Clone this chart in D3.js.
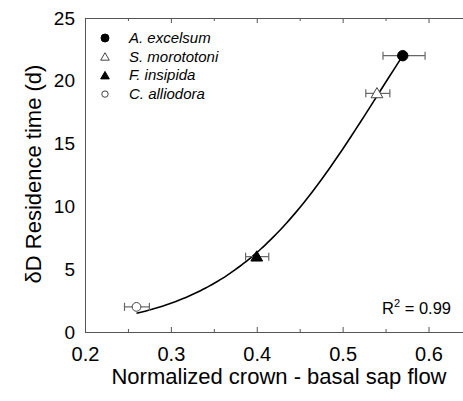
<!DOCTYPE html>
<html>
<head>
<meta charset="utf-8">
<script src="https://cdn.jsdelivr.net/npm/d3@7"></script>
<style>
  body { margin: 0; background: #fff; }
  svg { display: block; font-family: "Liberation Sans", Arial, sans-serif; }
</style>
</head>
<body>
<svg id="chart" width="463" height="401"></svg>
<script>
'use strict';

// data
const species = ['A. excelsum', 'S. morototoni', 'F. insipida', 'C. alliodora'];
const symbols = ['circleFilled', 'triangleOpen', 'triangleFilled', 'circleOpen'];
const flowValues = [0.57, 0.54, 0.40, 0.26];
const flowErrLow = [0.547, 0.527, 0.387, 0.246];
const flowErrHigh = [0.596, 0.555, 0.414, 0.275];
const residenceValues = [22, 19, 6, 2];
const xTicks = [0.2, 0.3, 0.4, 0.5, 0.6];
const xMinorTicks = [0.25, 0.35, 0.45, 0.55];
const yTicks = [0, 5, 10, 15, 20, 25];
// sigmoid regression curve, parameters estimated from the drawn line
const fitTop = 38, fitRate = 11.35, fitMid = 0.542;
const fitRange = [0.26, 0.57];

const svg = d3.select('#chart');
const plotLeft = 85, plotRight = 463, plotTop = 18, plotBottom = 332;

const x = d3.scaleLinear().domain([0.2, 0.6]).range([plotLeft, 428.5]);
const y = d3.scaleLinear().domain([0, 25]).range([plotBottom, plotTop]);

const fit = v => fitTop / (1 + Math.exp(-fitRate * (v - fitMid)));

// axes
const axisColor = '#555';
const bottomAxis = d3.axisBottom(x).tickValues(xTicks).tickSize(-5).tickFormat(d3.format('.1f')).tickPadding(15);
const gx = svg.append('g').attr('transform', `translate(0,${plotBottom})`).call(bottomAxis);
gx.select('.domain').remove();
gx.selectAll('.tick line').attr('stroke', axisColor);
gx.selectAll('.tick text').attr('font-size', 20).attr('fill', '#000');
svg.append('g').attr('transform', `translate(0,${plotBottom})`)
    .call(d3.axisBottom(x).tickValues(xMinorTicks).tickSize(-3).tickFormat(''))
    .call(g => g.select('.domain').remove())
    .selectAll('.tick line').attr('stroke', axisColor);

const topAxis = svg.append('g').attr('transform', `translate(0,${plotTop})`);
topAxis.call(d3.axisTop(x).tickValues(xTicks).tickSize(-5).tickFormat(''));
topAxis.select('.domain').remove();
topAxis.selectAll('.tick line').attr('stroke', axisColor);
svg.append('g').attr('transform', `translate(0,${plotTop})`)
    .call(d3.axisTop(x).tickValues(xMinorTicks).tickSize(-3).tickFormat(''))
    .call(g => g.select('.domain').remove())
    .selectAll('.tick line').attr('stroke', axisColor);

const gy = svg.append('g').attr('transform', `translate(${plotLeft},0)`)
    .call(d3.axisLeft(y).tickValues(yTicks).tickSize(0).tickPadding(10));
gy.select('.domain').remove();
gy.selectAll('.tick text').attr('font-size', 19).attr('fill', '#000');

svg.append('line').attr('x1', plotLeft).attr('x2', plotRight).attr('y1', plotTop + 0.5).attr('y2', plotTop + 0.5).attr('stroke', axisColor);
svg.append('line').attr('x1', plotLeft).attr('x2', plotRight).attr('y1', plotBottom + 0.5).attr('y2', plotBottom + 0.5).attr('stroke', axisColor);
svg.append('line').attr('x1', plotLeft + 0.5).attr('x2', plotLeft + 0.5).attr('y1', plotTop).attr('y2', plotBottom).attr('stroke', axisColor);

// axis titles
svg.append('text').attr('x', 279).attr('y', 384).attr('text-anchor', 'middle')
    .attr('font-size', 22).text('Normalized crown - basal sap flow');
svg.append('text').attr('transform', 'translate(41,174) rotate(-90)').attr('text-anchor', 'middle')
    .attr('font-size', 22).text('δD Residence time (d)');

// fitted curve
const curvePts = d3.range(fitRange[0], fitRange[1] + 0.0001, 0.005).map(v => [v, fit(v)]);
svg.append('path').datum(curvePts)
    .attr('d', d3.line().x(d => x(d[0])).y(d => y(d[1])).curve(d3.curveMonotoneX))
    .attr('fill', 'none').attr('stroke', '#000').attr('stroke-width', 1.6);

// error bars
const errs = svg.append('g').attr('stroke', '#666').attr('stroke-width', 1.2);
flowValues.forEach((v, i) => {
    const yy = y(residenceValues[i]);
    errs.append('line').attr('x1', x(flowErrLow[i])).attr('x2', x(flowErrHigh[i])).attr('y1', yy).attr('y2', yy);
    [flowErrLow[i], flowErrHigh[i]].forEach(e => {
        errs.append('line').attr('x1', x(e)).attr('x2', x(e)).attr('y1', yy - 4).attr('y2', yy + 4);
    });
});

function drawSymbol(g, kind, cx, cy, size) {
    const isCircle = kind.startsWith('circle');
    const filled = kind.endsWith('Filled');
    g.append('path')
        .attr('d', d3.symbol().type(isCircle ? d3.symbolCircle : d3.symbolTriangle).size(size)())
        .attr('transform', `translate(${cx},${cy + (isCircle ? 0 : 1)})`)
        .attr('fill', filled ? '#000' : '#fff')
        .attr('stroke', filled ? '#000' : '#444')
        .attr('stroke-width', 1);
}

const marks = svg.append('g');
flowValues.forEach((v, i) => {
    const big = symbols[i] === 'circleFilled' ? 85 : 60;
    drawSymbol(marks, symbols[i], x(v), y(residenceValues[i]), big);
});

// legend
const legend = svg.append('g');
species.forEach((name, i) => {
    const ly = 38 + i * 18.7;
    drawSymbol(legend, symbols[i], 105, ly, symbols[i] === 'circleFilled' ? 50 : 32);
    legend.append('text').attr('x', 129).attr('y', ly + 5).attr('font-size', 15)
        .attr('font-style', 'italic').text(name);
});

// R squared
const r2 = svg.append('text').attr('x', 451).attr('y', 314).attr('text-anchor', 'end').attr('font-size', 16.5);
r2.append('tspan').text('R');
r2.append('tspan').attr('font-size', 11).attr('dy', -7).text('2');
r2.append('tspan').attr('dy', 7).text(' = 0.99');
</script>
</body>
</html>
